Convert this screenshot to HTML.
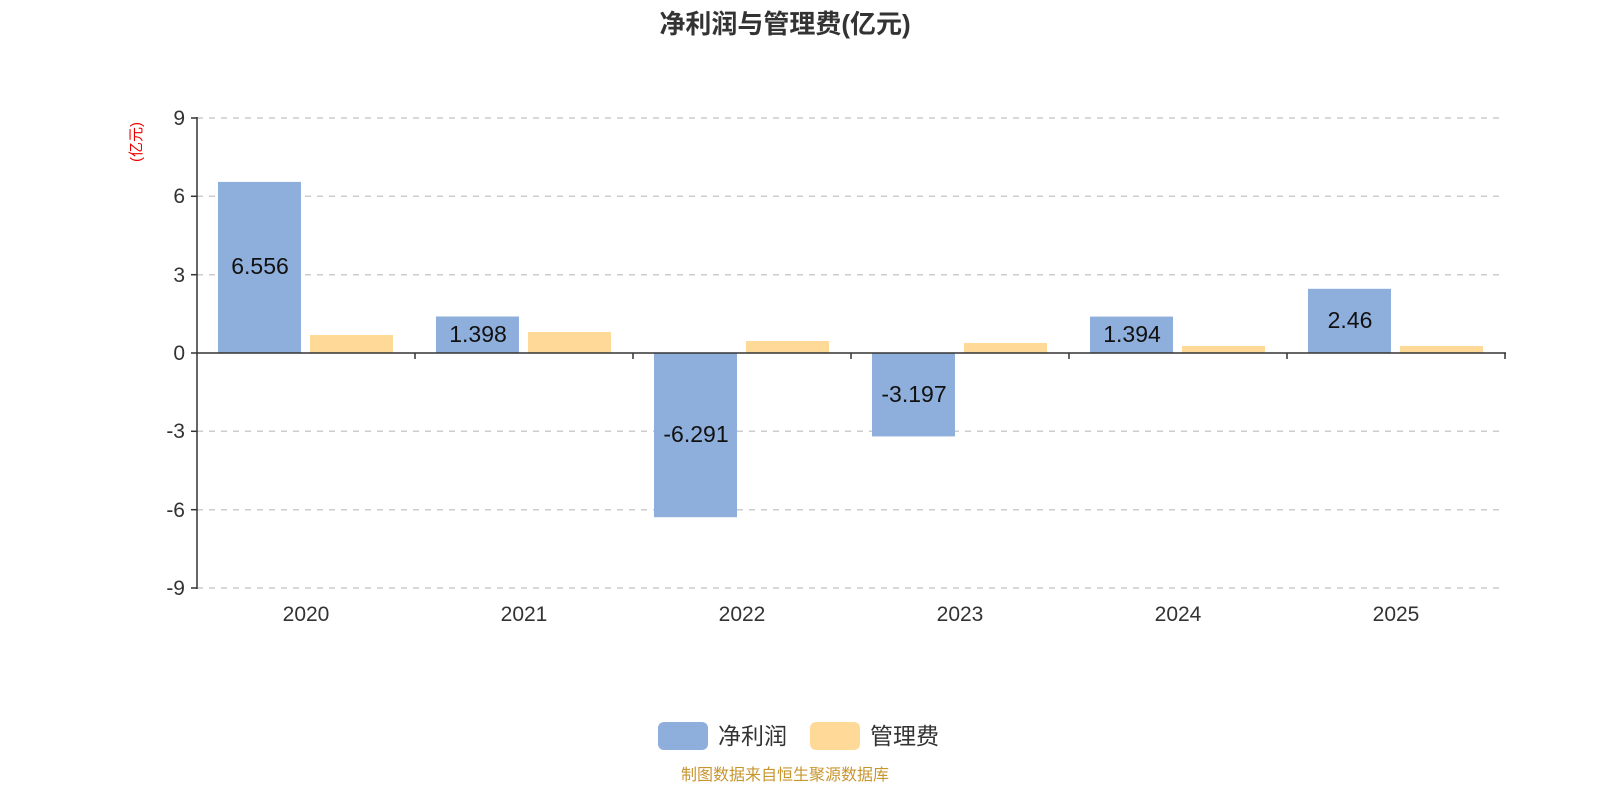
<!DOCTYPE html>
<html><head><meta charset="utf-8"><style>
html,body{margin:0;padding:0;background:#fff;overflow:hidden;width:1600px;height:800px;}
svg{display:block;font-family:"Liberation Sans","Noto Sans CJK SC",sans-serif;}
</style></head><body>
<svg width="1600" height="800" viewBox="0 0 1600 800" xmlns="http://www.w3.org/2000/svg">
<text x="785" y="33" text-anchor="middle" font-size="26" font-weight="bold" fill="#333">净利润与管理费(亿元)</text>
<g stroke="#ccc" stroke-width="1.5" stroke-dasharray="6,6">
<line x1="197" y1="118" x2="1505" y2="118"/>
<line x1="197" y1="196.3" x2="1505" y2="196.3"/>
<line x1="197" y1="274.7" x2="1505" y2="274.7"/>
<line x1="197" y1="431.3" x2="1505" y2="431.3"/>
<line x1="197" y1="509.7" x2="1505" y2="509.7"/>
<line x1="197" y1="588" x2="1505" y2="588"/>
</g>
<g fill="#8eaedb">
<rect x="218" y="181.9" width="83" height="171.1"/>
<rect x="436" y="316.5" width="83" height="36.5"/>
<rect x="654" y="353" width="83" height="164.2"/>
<rect x="872" y="353" width="83" height="83.4"/>
<rect x="1090" y="316.6" width="83" height="36.4"/>
<rect x="1308" y="288.8" width="83" height="64.2"/>
</g>
<g fill="#fed998">
<rect x="310" y="335" width="83" height="18"/>
<rect x="528" y="332" width="83" height="21"/>
<rect x="746" y="341" width="83" height="12"/>
<rect x="964" y="343" width="83" height="10"/>
<rect x="1182" y="346" width="83" height="7"/>
<rect x="1400" y="346" width="83" height="7"/>
</g>
<g font-size="23" fill="#111" text-anchor="middle">
<text x="260" y="274">6.556</text>
<text x="478" y="342">1.398</text>
<text x="696" y="442">-6.291</text>
<text x="914" y="402">-3.197</text>
<text x="1132" y="342">1.394</text>
<text x="1350" y="328">2.46</text>
</g>
<g stroke="#333" stroke-width="1.5">
<line x1="197" y1="117" x2="197" y2="589"/>
<line x1="197" y1="353" x2="1506" y2="353"/>
<line x1="191" y1="118" x2="197" y2="118"/>
<line x1="191" y1="196.3" x2="197" y2="196.3"/>
<line x1="191" y1="274.7" x2="197" y2="274.7"/>
<line x1="191" y1="353" x2="197" y2="353"/>
<line x1="191" y1="431.3" x2="197" y2="431.3"/>
<line x1="191" y1="509.7" x2="197" y2="509.7"/>
<line x1="191" y1="588" x2="197" y2="588"/>
<line x1="415" y1="353" x2="415" y2="359"/>
<line x1="633" y1="353" x2="633" y2="359"/>
<line x1="851" y1="353" x2="851" y2="359"/>
<line x1="1069" y1="353" x2="1069" y2="359"/>
<line x1="1287" y1="353" x2="1287" y2="359"/>
<line x1="1505" y1="353" x2="1505" y2="359"/>
</g>
<g font-size="21" fill="#333" text-anchor="end">
<text x="185" y="125">9</text>
<text x="185" y="203">6</text>
<text x="185" y="282">3</text>
<text x="185" y="360">0</text>
<text x="185" y="438">-3</text>
<text x="185" y="517">-6</text>
<text x="185" y="595">-9</text>
</g>
<g font-size="21" fill="#333" text-anchor="middle">
<text x="306" y="621">2020</text>
<text x="524" y="621">2021</text>
<text x="742" y="621">2022</text>
<text x="960" y="621">2023</text>
<text x="1178" y="621">2024</text>
<text x="1396" y="621">2025</text>
</g>
<text transform="translate(141,142) rotate(-90)" text-anchor="middle" font-size="15" fill="#e00">(亿元)</text>
<rect x="658" y="722" width="50" height="28" rx="6" fill="#8eaedb"/>
<text x="718" y="744" font-size="23" fill="#333">净利润</text>
<rect x="810" y="722" width="50" height="28" rx="6" fill="#fed998"/>
<text x="870" y="744" font-size="23" fill="#333">管理费</text>
<text x="785" y="780" text-anchor="middle" font-size="16" fill="#c8962f">制图数据来自恒生聚源数据库</text>
</svg>
</body></html>
